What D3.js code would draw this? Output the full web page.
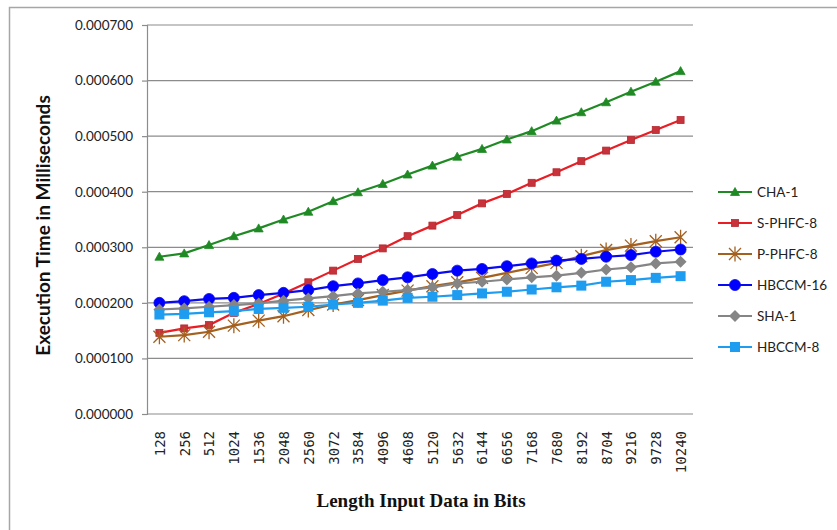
<!DOCTYPE html>
<html>
<head>
<meta charset="utf-8">
<script src="https://cdn.jsdelivr.net/npm/d3@7/dist/d3.min.js"></script>
<style>
  html, body { margin: 0; padding: 0; background: #fff; }
  svg { display: block; }
</style>
</head>
<body>
<svg id="chart" width="837" height="530"></svg>
<script>
// Input lengths (bits)
const categories = ["128","256","512","1024","1536","2048","2560","3072","3584","4096","4608",
  "5120","5632","6144","6656","7168","7680","8192","8704","9216","9728","10240"];

// Execution time in milliseconds per algorithm
const cha1 = [0.000283,0.000289,0.000304,0.000320,0.000334,0.000350,0.000364,0.000383,0.000399,0.000414,0.000431,
  0.000447,0.000463,0.000477,0.000494,0.000509,0.000528,0.000543,0.000561,0.000580,0.000598,0.000617];
const sphfc8 = [0.000146,0.000154,0.000160,0.000182,0.000198,0.000217,0.000237,0.000258,0.000279,0.000298,0.000320,
  0.000339,0.000358,0.000379,0.000396,0.000416,0.000435,0.000455,0.000474,0.000493,0.000511,0.000529];
const pphfc8 = [0.000139,0.000142,0.000148,0.000159,0.000168,0.000176,0.000187,0.000197,0.000205,0.000214,0.000222,
  0.000230,0.000237,0.000245,0.000254,0.000263,0.000272,0.000284,0.000295,0.000303,0.000311,0.000318];
const hbccm16 = [0.000200,0.000203,0.000207,0.000209,0.000214,0.000218,0.000223,0.000230,0.000235,0.000241,0.000246,
  0.000252,0.000258,0.000261,0.000266,0.000271,0.000276,0.000279,0.000283,0.000286,0.000292,0.000296];
const sha1 = [0.000188,0.000190,0.000193,0.000196,0.000199,0.000204,0.000208,0.000212,0.000217,0.000220,0.000223,
  0.000228,0.000235,0.000238,0.000242,0.000246,0.000249,0.000254,0.000260,0.000264,0.000271,0.000274];
const hbccm8 = [0.000179,0.000180,0.000183,0.000185,0.000189,0.000191,0.000193,0.000197,0.000200,0.000204,0.000209,
  0.000211,0.000214,0.000217,0.000220,0.000224,0.000228,0.000231,0.000238,0.000241,0.000245,0.000248];

const yTicks = [0, 0.0001, 0.0002, 0.0003, 0.0004, 0.0005, 0.0006, 0.0007];

const series = [
  { name: "CHA-1",    values: cha1,    color: "#1f8a24", fill: "#1f8a24", marker: "triangle" },
  { name: "S-PHFC-8", values: sphfc8,  color: "#ea1c24", fill: "#c8323a", marker: "smallsquare" },
  { name: "P-PHFC-8", values: pphfc8,  color: "#a4601e", fill: "#a4601e", marker: "star" },
  { name: "HBCCM-16", values: hbccm16, color: "#0a0af0", fill: "#0000ff", marker: "circle" },
  { name: "SHA-1",    values: sha1,    color: "#858585", fill: "#858585", marker: "diamond" },
  { name: "HBCCM-8",  values: hbccm8,  color: "#1e9cf0", fill: "#1e9cf0", marker: "square" }
];

const svg = d3.select("#chart");
const plot = { left: 147, right: 693, top: 25, bottom: 414 };

// outer chart-area frame
svg.append("rect")
  .attr("x", 9.5).attr("y", 7.5).attr("width", 900).attr("height", 600)
  .attr("fill", "none").attr("stroke", "#a6a6a6").attr("stroke-width", 1.5);

const x = d3.scalePoint().domain(categories).range([plot.left, plot.right]).padding(0.5);
const y = d3.scaleLinear().domain([0, 0.0007]).range([plot.bottom, plot.top]);

// horizontal gridlines
svg.append("g")
  .selectAll("line").data(yTicks.filter(d => d > 0)).join("line")
  .attr("x1", plot.left).attr("x2", plot.right)
  .attr("y1", d => y(d)).attr("y2", d => y(d))
  .attr("stroke", "#8c8c8c").attr("stroke-width", 1.2);

// y axis
const yAxis = svg.append("g")
  .attr("transform", `translate(${plot.left},0)`)
  .call(d3.axisLeft(y).tickValues(yTicks).tickFormat(d3.format(".6f")).tickSize(5).tickPadding(9));
yAxis.select(".domain").attr("stroke", "#8c8c8c").attr("stroke-width", 1.2);
yAxis.selectAll(".tick line").attr("stroke", "#8c8c8c").attr("stroke-width", 1.2);
yAxis.selectAll(".tick text")
  .attr("font-family", "Lato, 'Open Sans', sans-serif")
  .attr("font-size", 13.5).attr("fill", "#222");

// x axis
const xAxis = svg.append("g")
  .attr("transform", `translate(0,${plot.bottom})`)
  .call(d3.axisBottom(x).tickSize(0).tickPadding(0));
xAxis.select(".domain").attr("stroke", "#8c8c8c").attr("stroke-width", 1.2)
  .attr("d", `M${plot.left},0H${plot.right}`);
xAxis.selectAll(".tick text")
  .attr("font-family", "'DejaVu Sans Mono', 'Liberation Mono', monospace")
  .attr("font-size", 14).attr("fill", "#222")
  .attr("text-anchor", "end")
  .attr("transform", "rotate(-90)")
  .attr("x", -17).attr("y", 0).attr("dy", "0.35em");

// marker drawing
function drawMarker(g, type, color, fill) {
  if (type === "triangle") {
    g.append("path").attr("d", "M0,-4.5L4.5,3.5L-4.5,3.5Z").attr("fill", fill).attr("stroke", color).attr("stroke-width", 0.8);
  } else if (type === "smallsquare") {
    g.append("rect").attr("x", -3.5).attr("y", -3.5).attr("width", 7).attr("height", 7)
      .attr("fill", fill).attr("stroke", "#b22a30").attr("stroke-width", 0.8);
  } else if (type === "star") {
    g.append("path").attr("d", "M-6,-6L6,6M-6,6L6,-6M0,-7.5L0,7.5")
      .attr("stroke", color).attr("stroke-width", 1.3).attr("fill", "none");
  } else if (type === "circle") {
    g.append("circle").attr("r", 5.5).attr("fill", fill).attr("stroke", color).attr("stroke-width", 0.8);
  } else if (type === "diamond") {
    g.append("path").attr("d", "M0,-6L6,0L0,6L-6,0Z").attr("fill", fill);
  } else if (type === "square") {
    g.append("rect").attr("x", -5).attr("y", -5).attr("width", 10).attr("height", 10).attr("fill", fill);
  }
}

const line = d3.line().x((d, i) => x(categories[i])).y(d => y(d));

series.forEach(s => {
  const g = svg.append("g");
  g.append("path").datum(s.values).attr("d", line)
    .attr("fill", "none").attr("stroke", s.color).attr("stroke-width", 2.2);
  s.values.forEach((v, i) => {
    const m = g.append("g").attr("transform", `translate(${x(categories[i])},${y(v)})`);
    drawMarker(m, s.marker, s.color, s.fill);
  });
});

// legend
const legend = svg.append("g");
series.forEach((s, i) => {
  const ly = 192 + i * 31;
  const lg = legend.append("g");
  lg.append("line").attr("x1", 718).attr("x2", 752).attr("y1", ly).attr("y2", ly)
    .attr("stroke", s.color).attr("stroke-width", 2.2);
  const m = lg.append("g").attr("transform", `translate(735,${ly})`);
  drawMarker(m, s.marker, s.color, s.fill);
  lg.append("text").attr("x", 757).attr("y", ly).attr("dy", "0.35em")
    .attr("font-family", "Lato, 'Open Sans', sans-serif").attr("font-size", 13.5)
    .attr("fill", "#222").text(s.name);
});

// axis titles
svg.append("text")
  .attr("transform", `translate(50,${(plot.top + plot.bottom) / 2 + 6}) rotate(-90)`)
  .attr("text-anchor", "middle")
  .attr("font-family", "Lato, 'Open Sans', sans-serif").attr("font-weight", "bold")
  .attr("font-size", 19).attr("fill", "#111")
  .text("Execution Time in Milliseconds");

svg.append("text")
  .attr("x", 421).attr("y", 507)
  .attr("text-anchor", "middle")
  .attr("font-family", "'Liberation Serif', 'Times New Roman', serif").attr("font-weight", "bold")
  .attr("font-size", 19).attr("fill", "#111")
  .text("Length Input Data in Bits");
</script>
</body>
</html>
